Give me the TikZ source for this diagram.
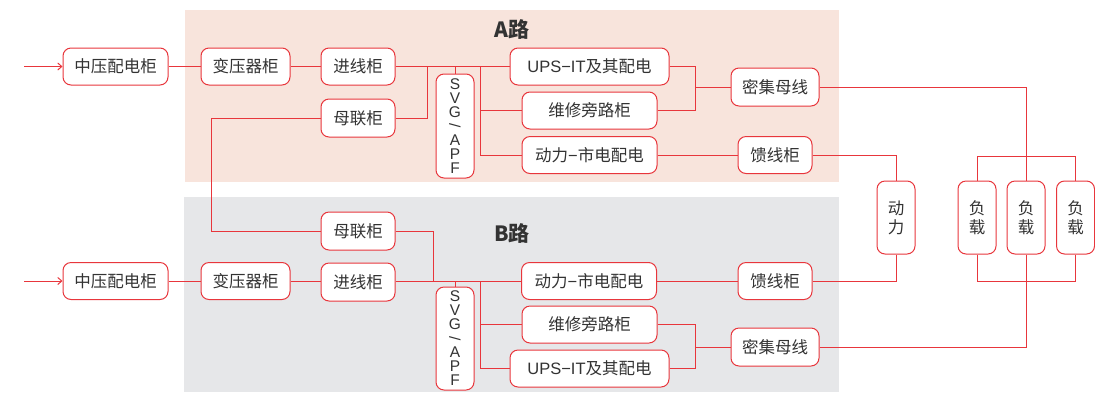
\documentclass[tikz,border=0pt]{standalone}
\usepackage{fontspec}
\usepackage{graphicx}
\setmainfont{Noto Sans CJK SC}
\newfontfamily\lat{Liberation Sans}
\usetikzlibrary{arrows.meta}
\definecolor{lred}{HTML}{E8363C}
\definecolor{pinkbg}{HTML}{F8E4DC}
\definecolor{graybg}{HTML}{E6E7E9}
\definecolor{txt}{HTML}{333333}
\newcommand{\vl}[1]{\hbox to 30pt{\hss#1\hss}}
\newcommand{\vstk}[2]{\vbox{\baselineskip=#1\lineskiplimit=-100pt\lineskip=0pt #2}}
\tikzset{
  box/.style={draw=lred, line width=1pt, fill=white, rounded corners=8pt, inner sep=0pt,
    text=txt, font=\fontsize{16.5}{19}\selectfont, minimum height=37pt},
  vbox/.style={box, minimum width=38pt},
  svgbox/.style={vbox, font=\lat\fontsize{15.5}{14}\selectfont},
  wire/.style={draw=lred, line width=1pt},
  title/.style={font=\fontsize{21}{24}\selectfont\bfseries, text=txt}
}
\begin{document}
\begin{tikzpicture}[x=1pt,y=-1pt]
\useasboundingbox (0,0) rectangle (1095,392);
\fill[pinkbg] (185,10) rectangle (839,182);
\fill[graybg] (184,197) rectangle (839,392);
\node[title] (tA) at (512,29) {A路};
\node[title] (tB) at (512,233) {B路};

% ---- A path nodes
\node[box, minimum width=105pt] (mvA) at (115.5,66.5) {中压配电柜};
\node[box, minimum width=89pt] (tfA) at (245.5,66.5) {变压器柜};
\node[box, minimum width=74pt] (inA) at (358,66.5) {进线柜};
\node[box, minimum width=74pt, minimum height=38pt] (tieA) at (358,118) {母联柜};
\node[svgbox, minimum height=104pt] (svgA) at (455,126) {\vstk{14pt}{\vl{S}\vl{V}\vl{G}\vl{\rotatebox[origin=c]{-90}{/}}\vl{A}\vl{P}\vl{F}}};
\node[box, minimum width=159pt] (upsA) at (589.5,66.5) {{\lat UPS−IT}及其配电};
\node[box, minimum width=135pt] (byA) at (589.5,110.5) {维修旁路柜};
\node[box, minimum width=135pt] (pwA) at (589.5,155) {动力{\lat −}市电配电};
\node[box, minimum width=88pt, minimum height=38pt] (busA) at (775,87) {密集母线};
\node[box, minimum width=74pt] (fdA) at (775,155) {馈线柜};

% ---- B path nodes
\node[box, minimum width=105pt] (mvB) at (115.5,281) {中压配电柜};
\node[box, minimum width=89pt] (tfB) at (245.5,281) {变压器柜};
\node[box, minimum width=74pt, minimum height=38pt] (inB) at (358,282) {进线柜};
\node[box, minimum width=74pt, minimum height=38pt] (tieB) at (358,231) {母联柜};
\node[svgbox, minimum height=103pt] (svgB) at (455,338.5) {\vstk{14pt}{\vl{S}\vl{V}\vl{G}\vl{\rotatebox[origin=c]{-90}{/}}\vl{A}\vl{P}\vl{F}}};
\node[box, minimum width=135pt] (pwB) at (589,281) {动力{\lat −}市电配电};
\node[box, minimum width=135pt] (byB) at (589.5,324.5) {维修旁路柜};
\node[box, minimum width=159pt] (upsB) at (589.5,368.5) {{\lat UPS−IT}及其配电};
\node[box, minimum width=88pt, minimum height=38pt] (busB) at (775,347) {密集母线};
\node[box, minimum width=74pt] (fdB) at (775,281) {馈线柜};

% ---- right side
\node[vbox, minimum height=73pt] (dl) at (896,217.5) {\vstk{19pt}{\vl{动}\vl{力}}};
\node[vbox, minimum height=73pt] (ld1) at (977,217.5) {\vstk{19pt}{\vl{负}\vl{载}}};
\node[vbox, minimum height=73pt] (ld2) at (1026,217.5) {\vstk{19pt}{\vl{负}\vl{载}}};
\node[vbox, minimum height=73pt] (ld3) at (1075.5,217.5) {\vstk{19pt}{\vl{负}\vl{载}}};

% ---- coordinates
\coordinate (inArr) at (24,66.5);
\coordinate (inBrr) at (24,281);
\coordinate (tieL) at (211,118);
\coordinate (jtA) at (427,66.5);
\coordinate (jtB) at (433,281);
\coordinate (brA) at (480,66.5);
\coordinate (brB) at (480,281);
\coordinate (mgA) at (695,87);
\coordinate (mgB) at (695,347);

% ---- A wires
\draw[wire, -{Straight Barb[length=4pt,width=7pt]}] (inArr) -- (mvA.west);
\draw[wire] (mvA) -- (tfA);
\draw[wire] (tfA) -- (inA);
\draw[wire] (inA.east) -- (upsA.west);
\draw[wire] (tieA.west) -- (tieL) |- (tieB.west);
\draw[wire] (tieA.east) -| (jtA);
\draw[wire] (svgA.north) -- (svgA.north |- inA.east);
\draw[wire] (brA) |- (pwA.west);
\draw[wire] (brA |- byA.west) -- (byA.west);
\draw[wire] (upsA.east) -| (mgA);
\draw[wire] (byA.east) -| (mgA);
\draw[wire] (mgA) -- (busA.west);
\draw[wire] (pwA.east) -- (fdA.west);
\draw[wire] (fdA.east) -| (dl.north);
\draw[wire] (busA.east) -| (ld2.north);
\draw[wire] (ld1.north) -- ++(0,-24) -| (ld3.north);
\draw[wire] (ld1.south) -- ++(0,27) -| (ld3.south);

% ---- B wires
\draw[wire, -{Straight Barb[length=4pt,width=7pt]}] (inBrr) -- (mvB.west);
\draw[wire] (mvB) -- (tfB);
\draw[wire] (tfB.east) -- (inB.west |- tfB.east);
\draw[wire] (inB.east |- tfB.east) -- (pwB.west);
\draw[wire] (tieB.east) -| (jtB);
\draw[wire] (svgB.north) -- (svgB.north |- pwB.west);
\draw[wire] (brB) |- (upsB.west);
\draw[wire] (brB |- byB.west) -- (byB.west);
\draw[wire] (byB.east) -| (mgB);
\draw[wire] (upsB.east) -| (mgB);
\draw[wire] (mgB) -- (busB.west);
\draw[wire] (pwB.east) -- (fdB.west);
\draw[wire] (fdB.east) -| (dl.south);
\draw[wire] (busB.east) -| (ld2.south);
\end{tikzpicture}
\end{document}
